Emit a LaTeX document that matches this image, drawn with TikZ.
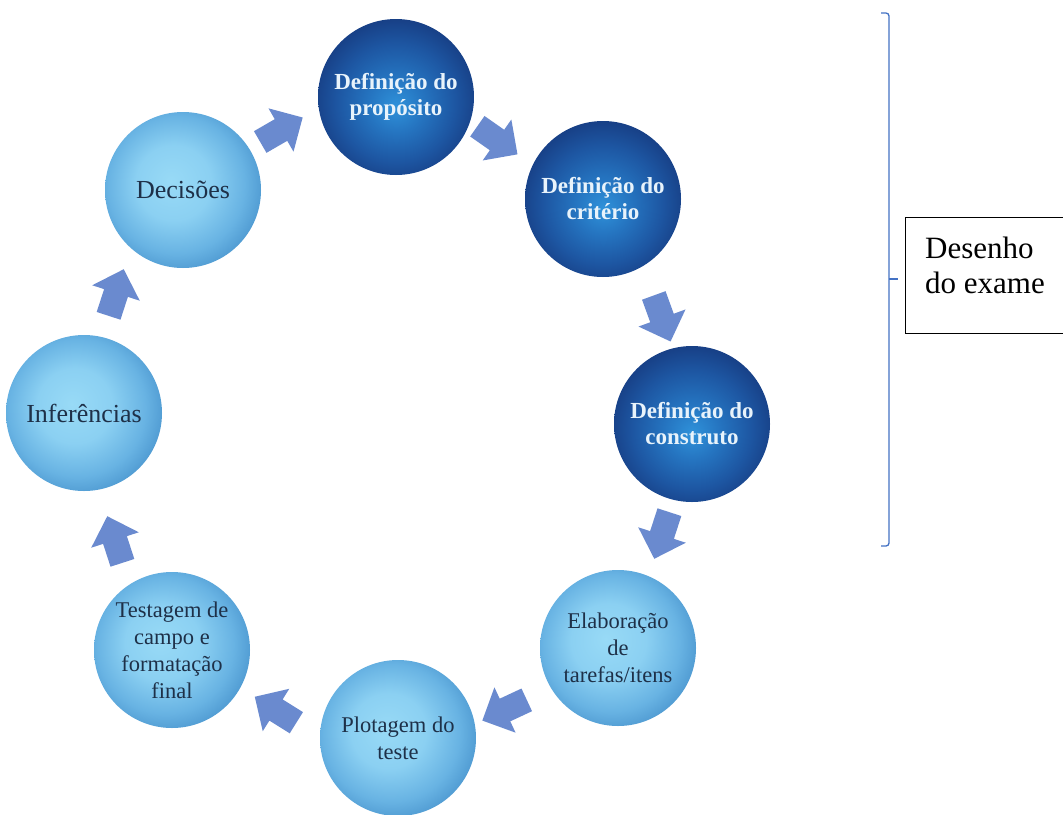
\documentclass[tikz,border=0pt]{standalone}
\usepackage{fontspec}
\setmainfont{Liberation Serif}
\definecolor{dbA}{HTML}{2F92DA}
\definecolor{dbB}{HTML}{2574C0}
\definecolor{dbC}{HTML}{1D56A2}
\definecolor{dbD}{HTML}{173E84}
\definecolor{lbA}{HTML}{98DAF6}
\definecolor{lbB}{HTML}{8BD0F2}
\definecolor{lbC}{HTML}{68B3E3}
\definecolor{lbD}{HTML}{4A95CE}
\definecolor{darktext}{HTML}{E8F3FB}
\definecolor{lighttext}{HTML}{1E3048}
\definecolor{arrowblue}{HTML}{6A8ACF}
\definecolor{bracketblue}{HTML}{4472C4}
\pgfdeclareradialshading{darkshade}{\pgfpoint{0bp}{-3bp}}{color(0bp)=(dbA); color(9bp)=(dbB); color(19bp)=(dbC); color(27bp)=(dbD); color(50bp)=(dbD)}
\pgfdeclareradialshading{lightshade}{\pgfpoint{-4bp}{3bp}}{color(0bp)=(lbA); color(12bp)=(lbB); color(22bp)=(lbC); color(29bp)=(lbD); color(50bp)=(lbD)}
\tikzset{
  ball/.style={circle, minimum size=156pt, inner sep=0pt, align=center, shade},
  darkcirc/.style={ball, shading=darkshade, text=darktext, font=\bfseries\fontsize{23}{26}\selectfont},
  lightcirc/.style={ball, shading=lightshade, text=lighttext, font=\fontsize{22.5}{27}\selectfont},
  lightbig/.style={lightcirc, font=\fontsize{26}{29}\selectfont},
  cyclearrow/.pic={\fill[arrowblue] (-24,-12.5) -- (0,-12.5) -- (0,-25) -- (25,0) -- (0,25) -- (0,12.5) -- (-24,12.5) -- cycle;},
  bracketline/.style={draw=bracketblue, line width=1.3pt},
  boxline/.style={draw=black, line width=1pt},
}
\begin{document}
\begin{tikzpicture}[x=1pt,y=-1pt]
\useasboundingbox (0,0) rectangle (1063,814);
\fill[white] (0,0) rectangle (1063,814);
% circles
\node[darkcirc] (c1) at (396,97) {Definição do\\propósito};
\node[darkcirc] (c2) at (603,199) {Definição do\\critério};
\node[darkcirc] (c3) at (692,424) {Definição do\\construto};
\node[lightcirc] (c4) at (618,648) {Elaboração\\de\\tarefas/itens};
\node[lightcirc] (c5) at (398,738) {Plotagem do\\teste};
\node[lightcirc] (c6) at (172,650) {Testagem de\\campo e\\formatação\\final};
\node[lightbig] (c7) at (84,413) {Inferências};
\node[lightbig] (c8) at (183,190) {Decisões};
% arrows
\pic[rotate=30] (a1) at (281,130) {cyclearrow};
\pic[rotate=-35] (a2) at (497,140) {cyclearrow};
\pic[rotate=-70] (a3) at (662,318) {cyclearrow};
\pic[rotate=-108] (a4) at (662,535) {cyclearrow};
\pic[rotate=-155] (a5) at (505,710) {cyclearrow};
\pic[rotate=148] (a6) at (276,710) {cyclearrow};
\pic[rotate=108] (a7) at (115,540) {cyclearrow};
\pic[rotate=72] (a8) at (116,293) {cyclearrow};
% bracket
\coordinate (bt) at (881,13);
\coordinate (bb) at (881,546);
\coordinate (bm) at (889,279);
\coordinate (bmt) at (898,279);
\draw[bracketline, rounded corners=3pt] (bt) -- (889,13) -- (889,546) -- (bb);
\draw[bracketline] (bm) -- (bmt);
% box
\draw[boxline] (1070,217) -- (905,217) -- (905,333) -- (1070,333);
\node[anchor=north west, inner sep=0pt, align=left, font=\fontsize{31}{35}\selectfont] (boxtext) at (925,236.5) {Desenho\\do exame};
\end{tikzpicture}
\end{document}
